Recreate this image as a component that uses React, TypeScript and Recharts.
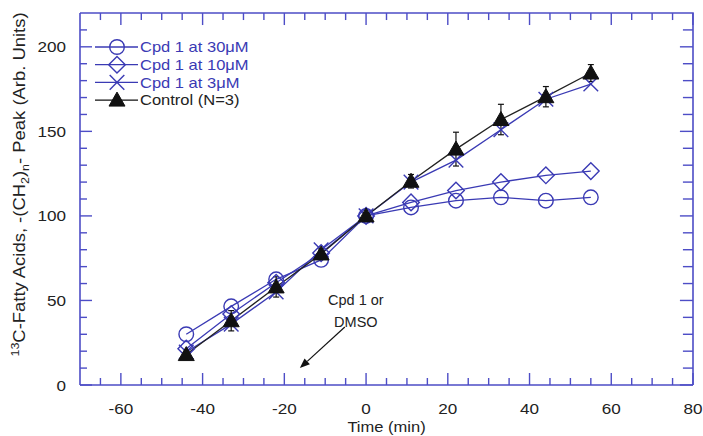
import { ComposedChart, Line, XAxis, YAxis, ErrorBar, Legend, ReferenceLine, ReferenceDot } from 'recharts';

const times = [-44, -33, -22, -11, 0, 11, 22, 33, 44, 55];
const cpd30uM = [30, 46.5, 62.5, 74, 100, 105, 109, 111, 109, 111];
const cpd10uM = [21.5, 42, 60.5, 78, 100, 108, 115, 120, 124, 126.5];
const cpd3uM = [19.5, 36, 55, 80, 100, 120, 133, 151, 169, 178];
const control = [18, 38, 58, 77.5, 100, 120.5, 139.5, 157, 170.5, 184.5];
const controlErr = [3, 6, 6, 3, 2, 4, 10, 9, 6, 5];

const xTicks = [-65, -60, -55, -50, -45, -40, -35, -30, -25, -20, -15, -10, -5, 0, 5, 10, 15, 20, 25, 30, 35, 40, 45, 50, 55, 60, 65, 70, 75, 80];
const yTicks = [0, 10, 20, 30, 40, 50, 60, 70, 80, 90, 100, 110, 120, 130, 140, 150, 160, 170, 180, 190, 200, 210];
const X_MIN = -70;
const X_MAX = 80;
const Y_MAX = 220;
const EDGE = 0.02; // keep the mirror ticks a hair inside the domain

const legendRows = [
  { label: 'Cpd 1 at 30\u03bcM', mark: 'circle' },
  { label: 'Cpd 1 at 10\u03bcM', mark: 'diamond' },
  { label: 'Cpd 1 at 3\u03bcM', mark: 'cross' },
  { label: 'Control (N=3)', mark: 'triangle' },
];

// where the "Cpd 1 or DMSO" note and its arrow sit, in data units
const notePos = { x: -2.5, y: 47.3 };
const arrowFrom = { x: -5.2, y: 34.3 };
const arrowTo = { x: -16.2, y: 10 };

const data = times.map((t, i) => ({
  t,
  c30: cpd30uM[i],
  c10: cpd10uM[i],
  c3: cpd3uM[i],
  ctrl: control[i],
  ctrlErr: controlErr[i],
}));

const W = 703;
const H = 436;
const MARGIN = { top: 13, right: 10, left: 20, bottom: 21 };
const Y_AXIS_W = 60;
const X_AXIS_H = 30;

const BLUE = '#3a3ab4';
const AXIS = '#4d4dc6';
const BLACK = '#111';
const TEXT = '#222';
const FONT = '"Liberation Sans", Arial, sans-serif';
const STRETCH = 1.18; // the source picture is a little wider than tall

function SText({ x, y, anchor = 'start', size = 14.5, fill = TEXT, children }: any) {
  return (
    <g transform={`translate(${x},${y}) scale(${STRETCH},1)`}>
      <text x={0} y={0} textAnchor={anchor} fontSize={size} fill={fill} fontFamily={FONT}>{children}</text>
    </g>
  );
}

function Marker({ kind, cx, cy }: { kind: string; cx: number; cy: number }) {
  if (kind === 'circle') return <circle cx={cx} cy={cy} r={7.3} fill="none" stroke={BLUE} strokeWidth={1.4} />;
  if (kind === 'diamond') {
    const s = 8.3;
    return <polygon points={`${cx},${cy - s} ${cx + s},${cy} ${cx},${cy + s} ${cx - s},${cy}`} fill="none" stroke={BLUE} strokeWidth={1.4} />;
  }
  if (kind === 'cross') {
    const s = 7.3;
    return (
      <g stroke={BLUE} strokeWidth={1.4}>
        <line x1={cx - s} y1={cy - s} x2={cx + s} y2={cy + s} />
        <line x1={cx - s} y1={cy + s} x2={cx + s} y2={cy - s} />
      </g>
    );
  }
  return <polygon points={`${cx},${cy - 8} ${cx + 8},${cy + 6} ${cx - 8},${cy + 6}`} fill={BLACK} stroke={BLACK} strokeWidth={1} />;
}

const dotOf = (kind: string) => (p: any) => <Marker key={`${kind}-${p.index}`} kind={kind} cx={p.cx} cy={p.cy} />;

function BottomTick({ x, y, payload }: any) {
  const v = payload.value;
  const major = v % 20 === 0;
  return (
    <g>
      <line x1={x} y1={y} x2={x} y2={y - (major ? 12 : 7)} stroke={AXIS} strokeWidth={1.4} />
      {major && <SText x={x} y={y + 29} anchor="middle">{v}</SText>}
    </g>
  );
}

function LeftTick({ x, y, payload }: any) {
  const v = payload.value;
  const major = v % 50 === 0;
  return (
    <g>
      <line x1={x} y1={y} x2={x + (major ? 12 : 7)} y2={y} stroke={AXIS} strokeWidth={1.4} />
      {major && <SText x={x - 14} y={y + 5.5} anchor="end">{v}</SText>}
    </g>
  );
}

function LegendBox() {
  return (
    <svg width={200} height={76} style={{ display: 'block' }}>
      {legendRows.map((r, i) => {
        const y = 11 + i * 17.7;
        const color = r.mark === 'triangle' ? BLACK : BLUE;
        return (
          <g key={r.label}>
            <line x1={7} y1={y} x2={50} y2={y} stroke={color} strokeWidth={1.3} />
            <Marker kind={r.mark} cx={29} cy={y} />
            <SText x={52} y={y + 5.2} size={14} fill={r.mark === 'triangle' ? TEXT : BLUE}>{r.label}</SText>
          </g>
        );
      })}
    </svg>
  );
}

function YTitle() {
  return (
    <g transform="translate(24.5,184.5) rotate(-90) scale(1.085,1)">
      <text x={0} y={0} textAnchor="middle" fontSize={17} fill={TEXT} fontFamily={FONT}>
        <tspan fontSize={11.5} dy={-6}>13</tspan>
        <tspan dy={6}>C-Fatty Acids, -(CH</tspan>
        <tspan fontSize={11.5} dy={4}>2</tspan>
        <tspan dy={-4}>)</tspan>
        <tspan fontSize={11.5} dy={4}>n</tspan>
        <tspan dy={-4}>- Peak (Arb. Units)</tspan>
      </text>
    </g>
  );
}

// x title, plus the top and right edges of the plot frame
function XTitle() {
  const top = MARGIN.top;
  const right = W - MARGIN.right;
  const left = MARGIN.left + Y_AXIS_W;
  const bottom = H - MARGIN.bottom - X_AXIS_H;
  return (
    <g>
      <path d={`M${left},${top} L${right},${top} L${right},${bottom}`} fill="none" stroke={AXIS} strokeWidth={1.6} />
      <SText x={(left + right) / 2} y={432} anchor="middle" size={14}>Time (min)</SText>
    </g>
  );
}

function Arrow({ x1, y1, x2, y2 }: any) {
  const ang = Math.atan2(y2 - y1, x2 - x1);
  const L = 10;
  const Wd = 4;
  const bx = x2 - L * Math.cos(ang);
  const by = y2 - L * Math.sin(ang);
  const px = -Math.sin(ang) * Wd;
  const py = Math.cos(ang) * Wd;
  return (
    <g>
      <line x1={x1} y1={y1} x2={bx} y2={by} stroke="#111" strokeWidth={1.2} />
      <polygon points={`${x2},${y2} ${bx + px},${by + py} ${bx - px},${by - py}`} fill="#111" />
    </g>
  );
}

function Note({ cx, cy }: any) {
  return (
    <text x={cx} y={cy} textAnchor="middle" fontSize={14.5} fill={TEXT} fontFamily={FONT}>
      <tspan x={cx} dy={0}>Cpd 1 or</tspan>
      <tspan x={cx} dy={22}>DMSO</tspan>
    </text>
  );
}

export default function App() {
  return (
    <div style={{ position: 'absolute', left: 0, top: 0, background: '#fff' }}>
      <ComposedChart width={W} height={H} data={data} margin={MARGIN}>
        <XAxis
          dataKey="t"
          type="number"
          domain={[X_MIN, X_MAX]}
          ticks={xTicks}
          interval={0}
          allowDataOverflow
          height={X_AXIS_H}
          tickSize={0}
          tickMargin={0}
          tickLine={false}
          stroke={AXIS}
          strokeWidth={1.6}
          tick={<BottomTick />}
          label={{ content: () => <XTitle /> }}
        />
        <YAxis
          type="number"
          domain={[0, Y_MAX]}
          ticks={yTicks}
          interval={0}
          allowDataOverflow
          width={Y_AXIS_W}
          tickSize={0}
          tickMargin={0}
          tickLine={false}
          stroke={AXIS}
          strokeWidth={1.6}
          tick={<LeftTick />}
          label={{ content: () => <YTitle /> }}
        />
        <Legend
          layout="vertical"
          align="center"
          verticalAlign="middle"
          wrapperStyle={{ left: 88, top: 36, width: 200, height: 76 }}
          content={() => <LegendBox />}
        />
        <Line dataKey="c30" name="Cpd 1 at 30μM" stroke={BLUE} strokeWidth={1.3} dot={dotOf('circle')} isAnimationActive={false} />
        <Line dataKey="c10" name="Cpd 1 at 10μM" stroke={BLUE} strokeWidth={1.3} dot={dotOf('diamond')} isAnimationActive={false} />
        <Line dataKey="c3" name="Cpd 1 at 3μM" stroke={BLUE} strokeWidth={1.3} dot={dotOf('cross')} isAnimationActive={false} />
        <Line dataKey="ctrl" name="Control (N=3)" stroke="#222" strokeWidth={1.3} dot={dotOf('triangle')} isAnimationActive={false}>
          <ErrorBar dataKey="ctrlErr" width={3} stroke="#111" strokeWidth={1.2} direction="y" isAnimationActive={false} />
        </Line>
        <ReferenceLine
          segment={[arrowFrom, arrowTo]}
          stroke="#111"
          shape={(p: any) => <Arrow x1={p.x1} y1={p.y1} x2={p.x2} y2={p.y2} />}
        />
        <ReferenceDot x={notePos.x} y={notePos.y} r={0} shape={(p: any) => <Note cx={p.cx} cy={p.cy} />} />
        {/* mirrored inward ticks on the top and right edges */}
        {xTicks.map((v) => (
          <ReferenceDot
            key={`tt${v}`}
            x={v === X_MAX ? X_MAX - EDGE : v}
            y={Y_MAX - EDGE}
            r={0}
            shape={(p: any) => (
              <line x1={p.cx} y1={p.cy} x2={p.cx} y2={p.cy + (v % 20 === 0 ? 12 : 7)} stroke={AXIS} strokeWidth={1.4} />
            )}
          />
        ))}
        {yTicks.map((v) => (
          <ReferenceDot
            key={`rt${v}`}
            x={X_MAX - EDGE}
            y={v === 0 ? EDGE : v}
            r={0}
            shape={(p: any) => (
              <line x1={p.cx} y1={p.cy} x2={p.cx - (v % 50 === 0 ? 13 : 10)} y2={p.cy} stroke={AXIS} strokeWidth={1.4} />
            )}
          />
        ))}
      </ComposedChart>
    </div>
  );
}
